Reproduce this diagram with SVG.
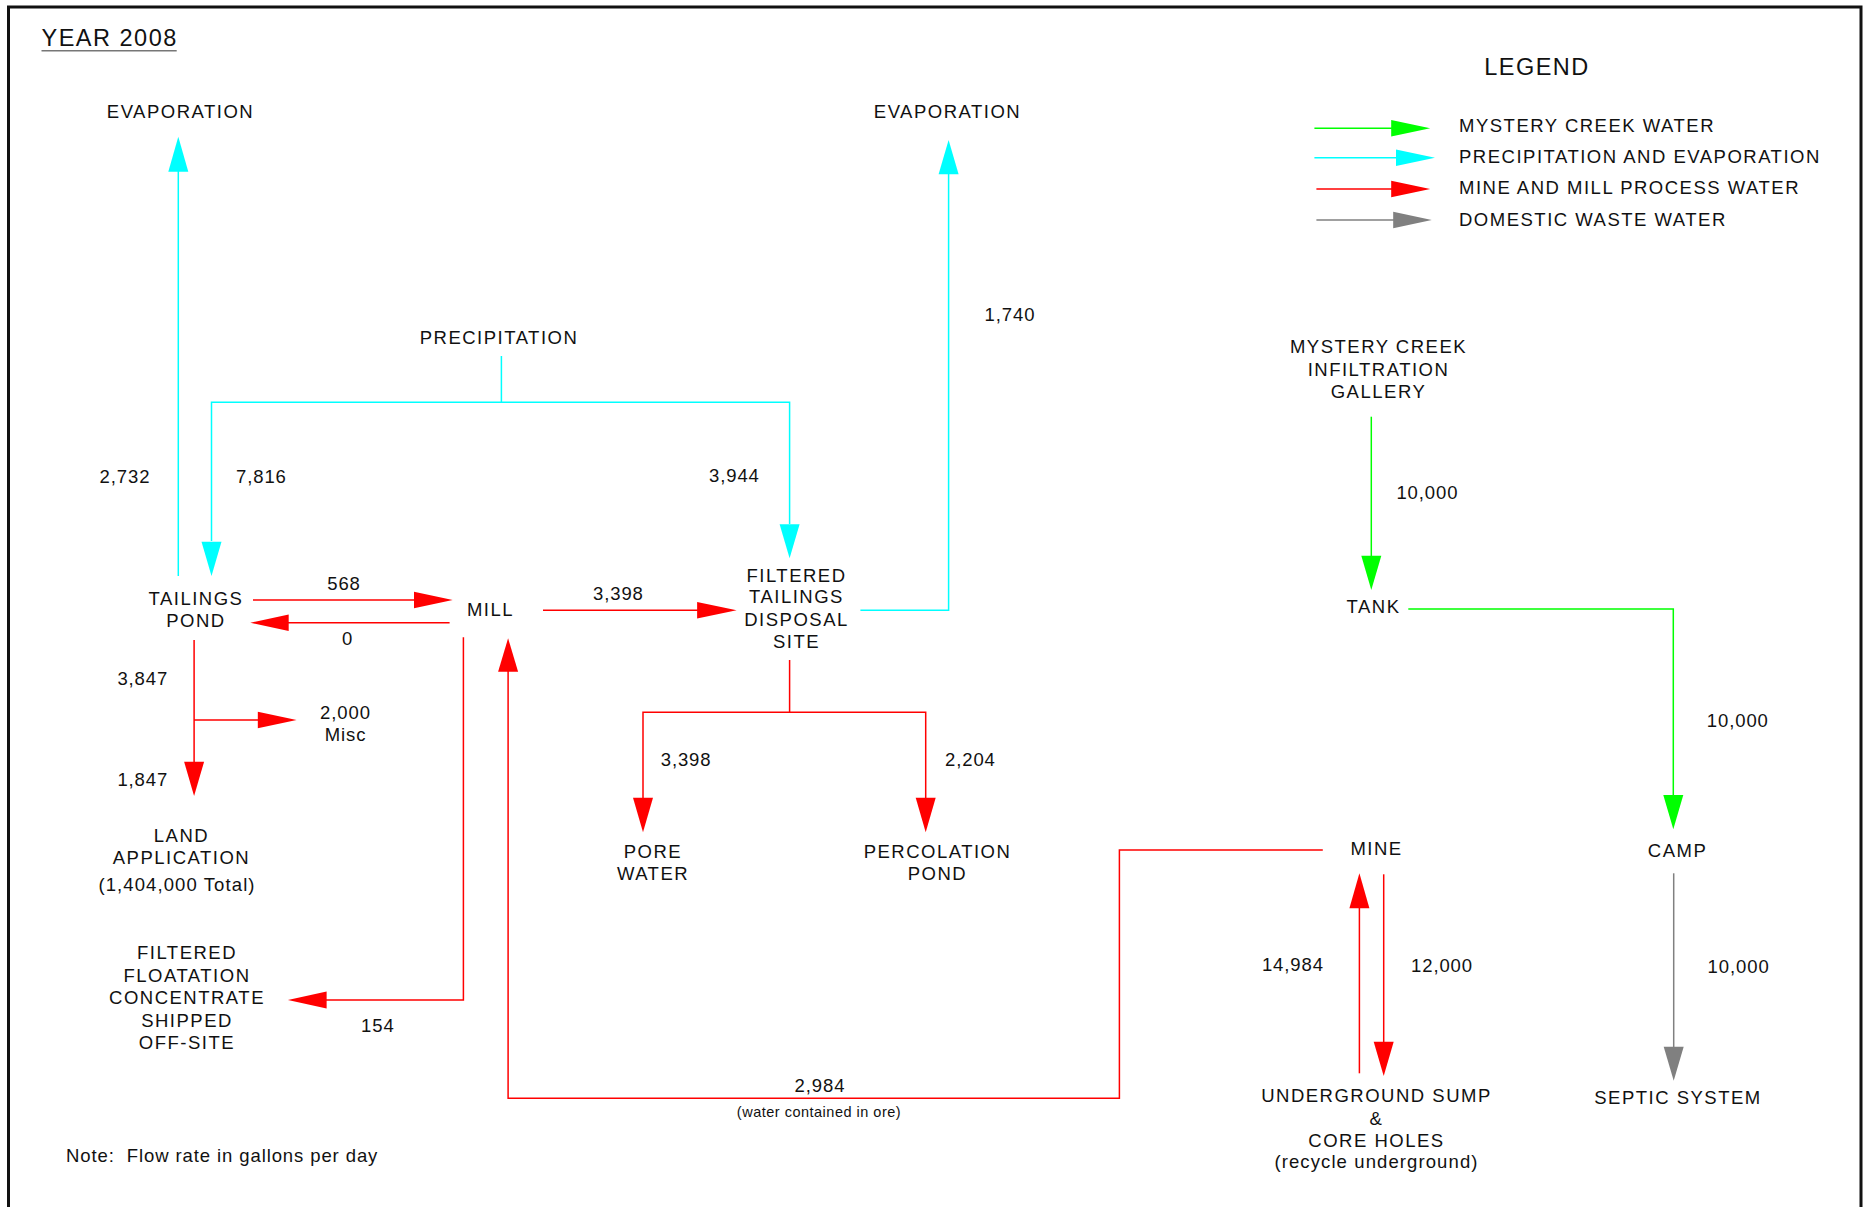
<svg xmlns="http://www.w3.org/2000/svg" width="1864" height="1207" viewBox="0 0 1864 1207">
<style>
  text { font-family: "Liberation Sans", Arial, Helvetica, sans-serif; fill: #111; }
  .lbl { font-size: 18.5px; letter-spacing: 1.5px; }
  .lc { letter-spacing: 1.1px; }
  .num { font-size: 18.5px; letter-spacing: 0.9px; }
  .mid { text-anchor: middle; }
  .big { font-size: 23.5px; letter-spacing: 1.5px; }
  .small { font-size: 14.5px; letter-spacing: 0.5px; }
  .ln { fill: none; stroke-width: 1.5; }
  .cy { stroke: #00ffff; }
  .gr { stroke: #00ff00; }
  .rd { stroke: #ff0000; }
  .gy { stroke: #808080; }
  .hcy { fill: #00ffff; }
  .hgr { fill: #00ff00; }
  .hrd { fill: #ff0000; }
  .hgy { fill: #808080; }
</style>
<rect width="1864" height="1207" fill="#ffffff"/>
<path d="M8.5,1210 V7 H1861 V1210" fill="none" stroke="#111" stroke-width="3"/>

<g id="title">
  <text class="big" x="41.5" y="46">YEAR 2008</text>
  <line x1="41.5" y1="50.7" x2="176.7" y2="50.7" stroke="#777" stroke-width="1.5"/>
</g>

<g id="legend">
  <text class="big mid" x="1537" y="75">LEGEND</text>
  <line class="ln gr" x1="1314.4" y1="128.3" x2="1392" y2="128.3"/>
  <polygon class="hgr" points="1391.2,120 1391.2,136.6 1430.2,128.3"/>
  <text class="lbl" x="1459" y="132.3">MYSTERY CREEK WATER</text>
  <line class="ln cy" x1="1314.4" y1="157.7" x2="1397" y2="157.7"/>
  <polygon class="hcy" points="1396,149.4 1396,166 1435,157.7"/>
  <text class="lbl" x="1459" y="163.3">PRECIPITATION AND EVAPORATION</text>
  <line class="ln rd" x1="1316.4" y1="189" x2="1392" y2="189"/>
  <polygon class="hrd" points="1391.2,180.7 1391.2,197.3 1430.2,189"/>
  <text class="lbl" x="1459" y="194">MINE AND MILL PROCESS WATER</text>
  <line class="ln gy" x1="1316.4" y1="220" x2="1394" y2="220"/>
  <polygon class="hgy" points="1393.2,211.7 1393.2,228.3 1431.8,220"/>
  <text class="lbl" x="1459" y="225.7">DOMESTIC WASTE WATER</text>
</g>

<g id="connectors">
  <!-- tailings pond evaporation -->
  <line class="ln cy" x1="178.3" y1="576" x2="178.3" y2="171"/>
  <polygon class="hcy" points="168.3,171.7 188.3,171.7 178.3,136.7"/>
  <!-- precipitation split -->
  <path class="ln cy" d="M501.4,356 V402.3 M211.5,541 V402.3 H789.6 V524"/>
  <polygon class="hcy" points="201.5,541.7 221.5,541.7 211.5,576"/>
  <polygon class="hcy" points="779.6,524.3 799.6,524.3 789.6,558.3"/>
  <!-- FTDS evaporation -->
  <path class="ln cy" d="M860.4,610.3 H948.6 V174"/>
  <polygon class="hcy" points="938.6,174.3 958.6,174.3 948.6,140"/>
  <!-- tailings -> mill 568 -->
  <line class="ln rd" x1="253" y1="600" x2="415" y2="600"/>
  <polygon class="hrd" points="414,591.7 414,608.3 452.7,600"/>
  <!-- mill -> tailings 0 -->
  <line class="ln rd" x1="449.6" y1="622.7" x2="288" y2="622.7"/>
  <polygon class="hrd" points="288.7,614.4 288.7,631 250.3,622.7"/>
  <!-- mill -> FTDS -->
  <line class="ln rd" x1="543" y1="610.3" x2="698" y2="610.3"/>
  <polygon class="hrd" points="697.1,602 697.1,618.6 736.6,610.3"/>
  <!-- FTDS split -->
  <path class="ln rd" d="M789.6,660 V712.3 M643,798 V712.3 H925.7 V798"/>
  <polygon class="hrd" points="633,797.7 653,797.7 643,832.3"/>
  <polygon class="hrd" points="915.7,797.7 935.7,797.7 925.7,832.3"/>
  <!-- tailings pond down / misc -->
  <path class="ln rd" d="M194.1,640 V762 M194.1,720 H258.5"/>
  <polygon class="hrd" points="184.1,761.7 204.1,761.7 194.1,796"/>
  <polygon class="hrd" points="257.8,711.7 257.8,728.3 296.6,720"/>
  <!-- mill -> concentrate -->
  <path class="ln rd" d="M463.4,637.3 V1000 H326"/>
  <polygon class="hrd" points="326.6,991.5 326.6,1008.5 287.9,1000"/>
  <!-- mine -> mill -->
  <path class="ln rd" d="M1322.8,850 H1119.4 V1098.3 H508.1 V671"/>
  <polygon class="hrd" points="498.1,671.7 518.1,671.7 508.1,638.3"/>
  <!-- sump -> mine -->
  <line class="ln rd" x1="1359.4" y1="1073.3" x2="1359.4" y2="908"/>
  <polygon class="hrd" points="1349.4,908.3 1369.4,908.3 1359.4,873.3"/>
  <!-- mine -> sump -->
  <line class="ln rd" x1="1383.7" y1="874.3" x2="1383.7" y2="1042"/>
  <polygon class="hrd" points="1373.7,1041.7 1393.7,1041.7 1383.7,1076"/>
  <!-- gallery -> tank -->
  <line class="ln gr" x1="1371.3" y1="416.7" x2="1371.3" y2="556"/>
  <polygon class="hgr" points="1361.3,555.7 1381.3,555.7 1371.3,590"/>
  <!-- tank -> camp -->
  <path class="ln gr" d="M1408.3,609 H1673.3 V795.5"/>
  <polygon class="hgr" points="1663.3,795 1683.3,795 1673.3,829.3"/>
  <!-- camp -> septic -->
  <line class="ln gy" x1="1673.7" y1="873.3" x2="1673.7" y2="1047"/>
  <polygon class="hgy" points="1663.7,1046.7 1683.7,1046.7 1673.7,1080.7"/>
</g>

<g id="flow-labels">
  <text class="num" x="99.6" y="483.3">2,732</text>
  <text class="num" x="236" y="483.3">7,816</text>
  <text class="num" x="709" y="481.7">3,944</text>
  <text class="num" x="984.6" y="320.7">1,740</text>
  <text class="num mid" x="344" y="590">568</text>
  <text class="num mid" x="347.5" y="645">0</text>
  <text class="num" x="593" y="600">3,398</text>
  <text class="num" x="117.4" y="685">3,847</text>
  <text class="num mid" x="345.5" y="719">2,000</text>
  <text class="num mid" x="345.5" y="740.7">Misc</text>
  <text class="num" x="117.4" y="786">1,847</text>
  <text class="num" x="660.7" y="765.7">3,398</text>
  <text class="num" x="945" y="765.7">2,204</text>
  <text class="num" x="361" y="1031.7">154</text>
  <text class="num mid" x="820" y="1091.7">2,984</text>
  <text class="small mid" x="819" y="1117.3">(water contained in ore)</text>
  <text class="num" x="1396.4" y="499">10,000</text>
  <text class="num" x="1706.8" y="726.7">10,000</text>
  <text class="num" x="1261.9" y="971">14,984</text>
  <text class="num" x="1411" y="971.7">12,000</text>
  <text class="num" x="1707.6" y="973.3">10,000</text>
</g>

<g id="evaporation-left"><text class="lbl mid" x="180.5" y="118.3">EVAPORATION</text></g>
<g id="evaporation-right"><text class="lbl mid" x="947.5" y="118.3">EVAPORATION</text></g>
<g id="precipitation"><text class="lbl mid" x="499" y="344">PRECIPITATION</text></g>
<g id="tailings-pond">
  <text class="lbl mid" x="196" y="605">TAILINGS</text>
  <text class="lbl mid" x="196" y="626.7">POND</text>
</g>
<g id="mill"><text class="lbl mid" x="490.5" y="615.7">MILL</text></g>
<g id="ftds">
  <text class="lbl mid" x="796.5" y="581.7">FILTERED</text>
  <text class="lbl mid" x="796.5" y="603.3">TAILINGS</text>
  <text class="lbl mid" x="796.5" y="625.7">DISPOSAL</text>
  <text class="lbl mid" x="796.5" y="648">SITE</text>
</g>
<g id="pore-water">
  <text class="lbl mid" x="653" y="858.3">PORE</text>
  <text class="lbl mid" x="653" y="880">WATER</text>
</g>
<g id="percolation-pond">
  <text class="lbl mid" x="937.5" y="858.3">PERCOLATION</text>
  <text class="lbl mid" x="937.5" y="880">POND</text>
</g>
<g id="land-application">
  <text class="lbl mid" x="181.5" y="841.7">LAND</text>
  <text class="lbl mid" x="181.5" y="864">APPLICATION</text>
  <text class="lbl lc mid" x="177" y="891">(1,404,000 Total)</text>
</g>
<g id="concentrate">
  <text class="lbl mid" x="187" y="959">FILTERED</text>
  <text class="lbl mid" x="187" y="981.7">FLOATATION</text>
  <text class="lbl mid" x="187" y="1003.7">CONCENTRATE</text>
  <text class="lbl mid" x="187" y="1026.7">SHIPPED</text>
  <text class="lbl mid" x="187" y="1049">OFF-SITE</text>
</g>
<g id="gallery">
  <text class="lbl mid" x="1378.5" y="353.3">MYSTERY CREEK</text>
  <text class="lbl mid" x="1378.5" y="375.7">INFILTRATION</text>
  <text class="lbl mid" x="1378.5" y="398.3">GALLERY</text>
</g>
<g id="tank"><text class="lbl mid" x="1373.5" y="613.3">TANK</text></g>
<g id="mine"><text class="lbl mid" x="1376.5" y="855">MINE</text></g>
<g id="camp"><text class="lbl mid" x="1677.5" y="856.7">CAMP</text></g>
<g id="sump">
  <text class="lbl mid" x="1376.5" y="1101.7">UNDERGROUND SUMP</text>
  <text class="lbl mid" x="1376.5" y="1125">&amp;</text>
  <text class="lbl mid" x="1376.5" y="1146.7">CORE HOLES</text>
  <text class="lbl lc mid" x="1376.5" y="1168.3">(recycle underground)</text>
</g>
<g id="septic"><text class="lbl mid" x="1678" y="1104">SEPTIC SYSTEM</text></g>
<g id="note"><text class="num" x="66" y="1161.7" style="white-space:pre">Note:  Flow rate in gallons per day</text></g>
</svg>
